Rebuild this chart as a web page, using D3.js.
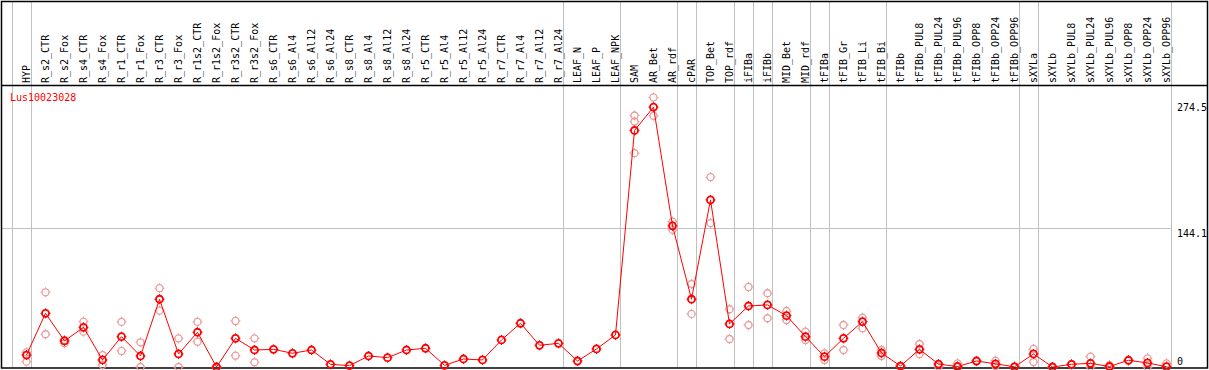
<!DOCTYPE html>
<html>
<head>
<meta charset="utf-8">
<script src="https://cdn.jsdelivr.net/npm/d3@7"></script>
<style>
  body { margin: 0; background: #fff; }
  text { font-family: "DejaVu Sans Mono", monospace; font-size: 10px; }
</style>
</head>
<body>
<div id="chart"></div>
<script>
// column labels
const samples = ['HYP', 'R_s2_CTR', 'R_s2_Fox', 'R_s4_CTR', 'R_s4_Fox', 'R_r1_CTR', 'R_r1_Fox',
  'R_r3_CTR', 'R_r3_Fox', 'R_r1s2_CTR', 'R_r1s2_Fox', 'R_r3s2_CTR', 'R_r3s2_Fox',
  'R_s6_CTR', 'R_s6_Al4', 'R_s6_Al12', 'R_s6_Al24', 'R_s8_CTR', 'R_s8_Al4', 'R_s8_Al12', 'R_s8_Al24',
  'R_r5_CTR', 'R_r5_Al4', 'R_r5_Al12', 'R_r5_Al24', 'R_r7_CTR', 'R_r7_Al4', 'R_r7_Al12', 'R_r7_Al24',
  'LEAF_N', 'LEAF_P', 'LEAF_NPK', 'SAM', 'AR_Bet', 'AR_rdf', 'cPAR', 'TOP_Bet', 'TOP_rdf',
  'iFIBa', 'iFIBb', 'MID_Bet', 'MID_rdf', 'tFIBa', 'tFIB_Gr', 'tFIB_Li', 'tFIB_Bi',
  'tFIBb', 'tFIBb_PUL8', 'tFIBb_PUL24', 'tFIBb_PUL96', 'tFIBb_OPP8', 'tFIBb_OPP24', 'tFIBb_OPP96',
  'sXYLa', 'sXYLb', 'sXYLb_PUL8', 'sXYLb_PUL24', 'sXYLb_PUL96', 'sXYLb_OPP8', 'sXYLb_OPP24', 'sXYLb_OPP96']

// mean expression
const means = [12.4, 55.6, 27, 41.1, 7.3, 31.4, 11.4, 70.2, 13.5, 36, 0, 29.7, 17.6,
  18.3, 14.2, 17.6, 2.8, 1.4, 11.4, 9.7, 17.6, 19.4, 1.7, 8.3, 7.3, 28, 45.3, 22.5, 24.5,
  6.2, 18.7, 33.2, 245, 269.2, 146.2, 70.2, 173.1, 44.6, 63.2, 64.3, 53.2, 31.4, 10.7, 29.7, 47, 14.5,
  1, 18.3, 3, 0.5, 6.2, 3.3, 0.2, 13.5, 0, 2.8, 3.8, 0.5, 7, 4.2, 0.3]

// replicates (null = none)
const rep1 = [15.2, 77.4, 28, 47, 12.4, 46.7, 25.6, 81.6, 29.7, 46.7, 0, 47.7, 29.7,
  null, null, null, null, null, null, null, null, null, null, null, null, null, null, null, null,
  null, null, null, 260.5, 279.2, 150.6, 86, 196.7, 59.8, 82.9, 76.4, 58, 36.6, 14.2, 43.5, 51.1, 17.6,
  1, 23.8, 3, 3.8, 6.5, 6.5, 0.5, 18.7, 0, 3, 10.7, 2, 7, 9, 3.8]
const rep2 = [5.5, 33.9, 24.5, 36.6, 2.1, 16.6, 0, 58.4, 0, 26.2, 0, 11.7, 4.9,
  null, null, null, null, null, null, null, null, null, null, null, null, null, null, null, null,
  null, null, null, 221.5, 260.2, 142, 55, 149, 29, 43.5, 50.5, 48.7, 28, 7.3, 17.6, 40.1, 11.4,
  1, 13.5, 0.3, 0.3, 6, 1, 0, 5.2, 0, 2.5, 0, 0, 6.5, 0, 0.3]
const rep3 = samples.map((s) => s === 'SAM' ? 254.3 : null)

// where the grey separators go
const groupStarts = ['HYP', 'R_s2_CTR', 'LEAF_N', 'SAM', 'cPAR', 'TOP_Bet', 'iFIBa', 'iFIBb',
  'MID_Bet', 'tFIBa', 'tFIB_Gr', 'tFIBb', 'sXYLa', 'sXYLb']

const yTicks = [0, 144.1, 274.5]
const geneName = 'Lus10023028'

const width = 1209,
  height = 370

let svg = d3.select('#chart')
  .append('svg')
  .attr('width', width)
  .attr('height', height)

let x = d3.scalePoint()
  .domain(samples)
  .range([26.5, 26.5 + 19 * (samples.length - 1)])

let y = d3.scaleLinear()
  .domain([0, 274.5])
  .range([367, 102])

const step = x.step()
const sepX = (s) => x(s) - 15

// separators, including the closing one after the last column
let seps = groupStarts.map(sepX).concat([x(samples[samples.length - 1]) - 15 + step])
svg.selectAll('line.sep')
  .data(seps)
  .enter()
  .append('line')
    .attr('x1', (d) => Math.round(d) + 0.5)
    .attr('x2', (d) => Math.round(d) + 0.5)
    .attr('y1', 1)
    .attr('y2', 368)
    .attr('stroke', '#c0c0c0')

// horizontal mid gridline
svg.append('line')
  .attr('x1', 1).attr('x2', seps[seps.length - 1] + 0.5)
  .attr('y1', Math.round(y(144.1)) + 0.5).attr('y2', Math.round(y(144.1)) + 0.5)
  .attr('stroke', '#c0c0c0')

// frame
svg.append('rect')
  .attr('x', 1.5).attr('y', 1.5)
  .attr('width', 1206).attr('height', 366.5)
  .attr('fill', 'none').attr('stroke', '#000').attr('stroke-width', 1.5)
svg.append('line')
  .attr('x1', 1).attr('x2', 1208).attr('y1', 85.5).attr('y2', 85.5)
  .attr('stroke', '#000').attr('stroke-width', 1.5)

// column labels
svg.selectAll('text.lab')
  .data(samples)
  .enter()
  .append('text')
    .attr('class', 'lab')
    .attr('transform', (d) => 'translate(' + x(d) + ',83) rotate(-90)')
    .attr('dy', '0.35em')
    .attr('fill', '#000')
    .text((d) => d)

// right axis values
svg.selectAll('text.tick')
  .data(yTicks)
  .enter()
  .append('text')
    .attr('x', 1177)
    .attr('y', (d) => Math.min(y(d) + 9, 365))
    .attr('fill', '#000')
    .text((d) => d)

svg.append('text')
  .attr('x', 10).attr('y', 101)
  .attr('fill', '#ff0000')
  .text(geneName)

// small ring with ticks, like the original markers
let marker = (g, data, color, sw) => {
  let pts = data.map((v, i) => ({ s: samples[i], v: v })).filter((d) => d.v !== null)
  g.selectAll('path.tk')
    .data(pts)
    .enter()
    .append('path')
      .attr('d', (d) => {
        let cx = x(d.s), cy = y(d.v)
        return 'M' + (cx - 5) + ',' + cy + 'h1.5M' + (cx + 3.5) + ',' + cy + 'h1.5' +
          'M' + cx + ',' + (cy - 5) + 'v1.5M' + cx + ',' + (cy + 3.5) + 'v1.5'
      })
      .attr('stroke', color)
      .attr('stroke-width', 1)
  g.selectAll('circle')
    .data(pts)
    .enter()
    .append('circle')
      .attr('cx', (d) => x(d.s))
      .attr('cy', (d) => y(d.v))
      .attr('r', 3.5)
      .attr('fill', 'none')
      .attr('stroke', color)
      .attr('stroke-width', sw)
}

let reps = svg.append('g')
marker(reps.append('g'), rep1, '#ea9c9c', 1.3)
marker(reps.append('g'), rep2, '#ea9c9c', 1.3)
marker(reps.append('g'), rep3, '#ea9c9c', 1.3)

let line = d3.line()
  .x((d, i) => x(samples[i]))
  .y((d) => y(d))

svg.append('path')
  .datum(means)
  .attr('d', line)
  .attr('fill', 'none')
  .attr('stroke', '#ff0000')
  .attr('stroke-width', 1)

marker(svg.append('g'), means, '#ff0000', 1.8)
</script>
</body>
</html>
